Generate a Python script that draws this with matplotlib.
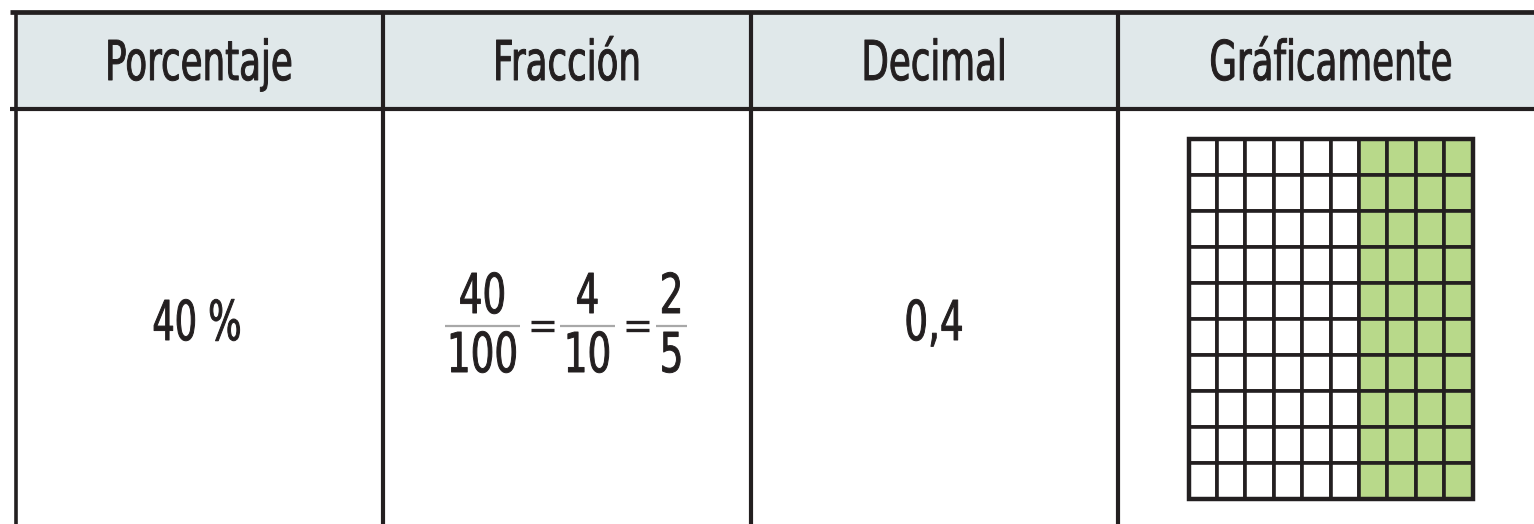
import matplotlib
matplotlib.use("Agg")
import matplotlib.pyplot as plt
from matplotlib.patches import Rectangle
from matplotlib.patheffects import AbstractPathEffect
from matplotlib.transforms import Affine2D

# ---- data ----
headers = ["Porcentaje", "Fracción", "Decimal", "Gráficamente"]
percent = 40
percent_label = "40 %"
fractions = [("40", "100"), ("4", "10"), ("2", "5")]
decimal_label = "0,4"
grid_rows = 10
grid_cols = 10

# ---- style ----
INK = "#231f20"
HEAD_BG = "#e0e8ea"
GREEN = "#b8d98a"
plt.rcParams["font.family"] = ["DejaVu Sans"]

W, H = 1534, 524
fig = plt.figure(figsize=(W / 100, H / 100), dpi=100)
ax = fig.add_axes([0, 0, 1, 1])
ax.set_xlim(0, W)
ax.set_ylim(H, 0)
ax.axis("off")


class HSqueeze(AbstractPathEffect):
    """Draw text condensed horizontally about its anchor x (text stays a Text artist)."""

    def __init__(self, sx, x_data, stroke=0.7):
        super().__init__()
        self.sx = sx
        self.x_data = x_data
        self.stroke = stroke

    def draw_path(self, renderer, gc, tpath, affine, rgbFace=None):
        cx = ax.transData.transform((self.x_data, 0))[0]
        t = affine + Affine2D().translate(-cx, 0).scale(self.sx, 1).translate(cx, 0)
        gc0 = renderer.new_gc()
        gc0.copy_properties(gc)
        gc0.set_foreground(INK)
        gc0.set_linewidth(self.stroke)
        renderer.draw_path(gc0, tpath, t, rgbFace)
        gc0.restore()


def ctext(x, y, s, sx=0.65, size=39.5):
    ax.text(x, y, s, ha="center", va="baseline", fontsize=size, color=INK,
            path_effects=[HSqueeze(sx, x)])


col_x = [15.5, 383, 751, 1118, W]
top_y, head_y = 11.5, 109

# header band
ax.add_patch(Rectangle((col_x[0], top_y), W - col_x[0], head_y - top_y,
                       facecolor=HEAD_BG, edgecolor="none", zorder=0))
# horizontal rules
ax.plot([10, W], [top_y, top_y], color=INK, lw=3.4, solid_capstyle="butt")
ax.plot([10, W], [head_y, head_y], color=INK, lw=3.0, solid_capstyle="butt")
# vertical rules
for x in col_x[:4]:
    ax.plot([x, x], [top_y, H + 5], color=INK, lw=2.6 if x == col_x[0] else 3.0,
            solid_capstyle="butt")

# header texts
head_cx = [199, 567, 934, 1331]
for cx, h in zip(head_cx, headers):
    ctext(cx, 80, h, sx=0.65)

# percentage
ctext(197, 340, percent_label, sx=0.64)

# decimal
ctext(934, 340, decimal_label, sx=0.68)

# fractions
frac_spans = [(445, 520), (560, 615), (656, 687)]
eq_spans = [(531, 554), (626, 649)]
bar_y = 326
for (num, den), (x0, x1) in zip(fractions, frac_spans):
    cx = (x0 + x1) / 2
    ax.plot([x0, x1], [bar_y, bar_y], color="#a8a8a8", lw=1.6, solid_capstyle="butt")
    ctext(cx, 313, num, sx=0.68)
    ctext(cx, 372, den, sx=0.68)
for x0, x1 in eq_spans:
    for dy in (-4.0, 4.0):
        ax.plot([x0, x1], [bar_y + dy, bar_y + dy], color=INK, lw=2.4,
                solid_capstyle="butt")

# graphic grid
gx0, gx1, gy0, gy1 = 1188.5, 1472.5, 139, 498.5
cw = (gx1 - gx0) / grid_cols
ch = (gy1 - gy0) / grid_rows
shaded_cols = percent // grid_rows
for r in range(grid_rows):
    for c in range(grid_cols):
        fc = GREEN if c >= grid_cols - shaded_cols else "white"
        ax.add_patch(Rectangle((gx0 + c * cw, gy0 + r * ch), cw, ch,
                               facecolor=fc, edgecolor=INK, lw=2.6, zorder=2))
ax.add_patch(Rectangle((gx0, gy0), gx1 - gx0, gy1 - gy0, facecolor="none",
                       edgecolor=INK, lw=3.2, zorder=3))

fig.savefig("out.png", dpi=100)
